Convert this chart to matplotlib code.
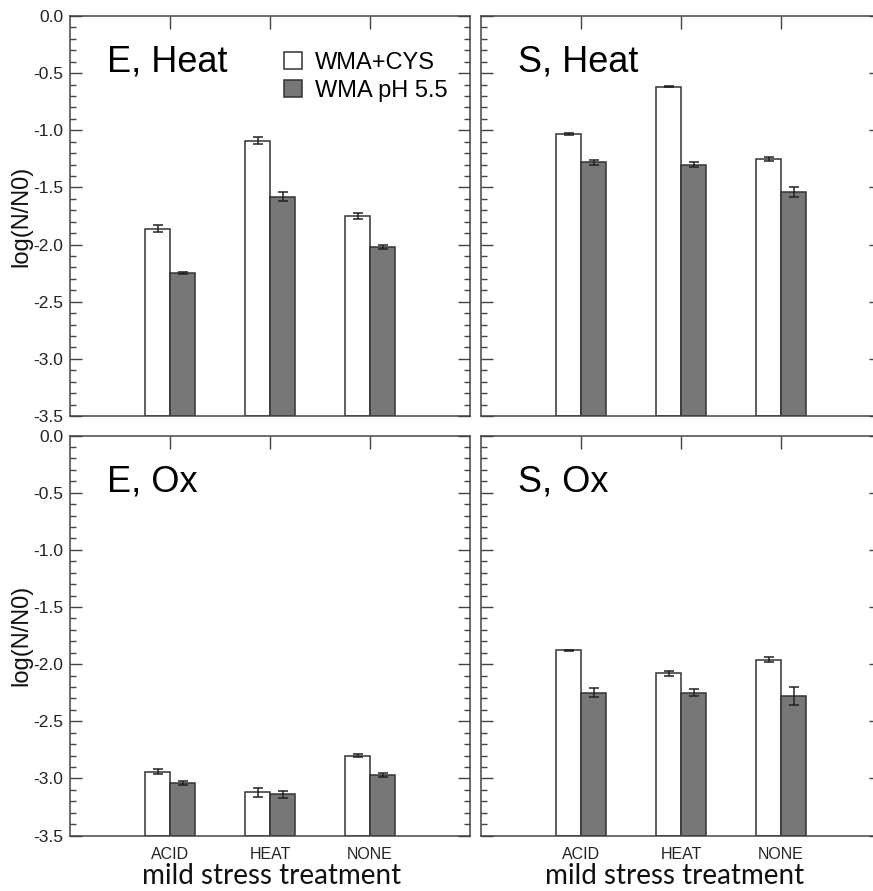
import matplotlib
matplotlib.use('Agg')
import matplotlib.pyplot as plt
from matplotlib.patches import Patch
from matplotlib.ticker import MultipleLocator
import numpy as np

plt.rcParams['font.family'] = ['Liberation Sans', 'DejaVu Sans']

categories = ['ACID', 'HEAT', 'NONE']
series = ['WMA+CYS', 'WMA pH 5.5']
panel_titles = ['E, Heat', 'S, Heat', 'E, Ox', 'S, Ox']

# log(N/N0) means and error (half-width), per panel
cys_vals = [[-1.86, -1.09, -1.75],
            [-1.03, -0.62, -1.25],
            [-2.94, -3.12, -2.80],
            [-1.88, -2.08, -1.96]]
cys_err = [[0.03, 0.03, 0.025],
           [0.01, 0.005, 0.015],
           [0.02, 0.04, 0.015],
           [0.005, 0.02, 0.02]]
ph_vals = [[-2.25, -1.58, -2.02],
           [-1.28, -1.30, -1.54],
           [-3.04, -3.14, -2.97],
           [-2.25, -2.25, -2.28]]
ph_err = [[0.01, 0.04, 0.02],
          [0.02, 0.02, 0.04],
          [0.015, 0.03, 0.02],
          [0.04, 0.03, 0.08]]

W, H = 873, 891
fig = plt.figure(figsize=(W / 100, H / 100), dpi=100)

# pixel boxes: left, top
boxes = [(70, 16), (481, 16), (70, 435.5), (481, 435.5)]
aw, ah = 400, 400

edge = '#333333'
grey = '#777777'
ymin = -3.5
x = np.arange(1, 4)
bw = 0.25

axes = []
for i, (lx, ty) in enumerate(boxes):
    ax = fig.add_axes([lx / W, 1 - (ty + ah) / H, aw / W, ah / H])
    axes.append(ax)
    ax.bar(x - bw / 2, np.array(cys_vals[i]) - ymin, bw, bottom=ymin,
           color='white', edgecolor=edge, linewidth=1.1)
    ax.bar(x + bw / 2, np.array(ph_vals[i]) - ymin, bw, bottom=ymin,
           color=grey, edgecolor=edge, linewidth=1.1)
    ax.errorbar(x - bw / 2, cys_vals[i], yerr=cys_err[i], fmt='none',
                ecolor='#222222', elinewidth=1.1, capsize=3.5, capthick=1.1)
    ax.errorbar(x + bw / 2, ph_vals[i], yerr=ph_err[i], fmt='none',
                ecolor='#222222', elinewidth=1.1, capsize=3.5, capthick=1.1)

    ax.set_xlim(0, 4)
    ax.set_ylim(-3.5, 0)
    ax.yaxis.set_major_locator(MultipleLocator(0.5))
    ax.yaxis.set_minor_locator(MultipleLocator(0.1))
    ax.set_yticks(np.arange(-3.5, 0.01, 0.5))
    ax.set_yticklabels(['%.1f' % v for v in np.arange(-3.5, 0.01, 0.5)])
    ax.tick_params(axis='y', which='major', direction='in', length=8.5,
                   width=1, color='#444444', left=True, right=True,
                   labelsize=12.5, labelcolor='#222222', pad=5)
    ax.tick_params(axis='y', which='minor', direction='in', length=4.3,
                   width=1, color='#444444', left=True, right=True)
    ax.set_xticks(x)
    ax.set_xticklabels(categories)
    ax.tick_params(axis='x', direction='in', length=9, width=1,
                   color='#444444', top=True, bottom=False,
                   labelsize=11.5, labelcolor='#222222', pad=8)
    for s in ax.spines.values():
        s.set_color('#444444')
        s.set_linewidth(1.1)

    ax.text(0.0925, 0.86, panel_titles[i], transform=ax.transAxes,
            fontsize=26, va='baseline', ha='left', color='black')

    if i % 2 == 1:
        ax.tick_params(axis='y', labelleft=False)
    else:
        ax.set_ylabel('log(N/N0)', fontsize=17, color='#111111')
        ax.yaxis.set_label_coords(-0.095, 0.5)
    if i < 2:
        ax.tick_params(axis='x', labelbottom=False)
    else:
        ax.set_xlabel('mild stress treatment', fontsize=20, family='Lato',
                      color='#111111', va='center')
        ax.xaxis.set_label_coords(0.505 if i == 2 else 0.485, -0.1)

handles = [Patch(facecolor='white', edgecolor=edge, linewidth=1.1),
           Patch(facecolor=grey, edgecolor=edge, linewidth=1.1)]
axes[0].legend(handles, series, loc='upper left', bbox_to_anchor=(0.535, 0.91),
               frameon=False, fontsize=17, handlelength=0.75, handleheight=0.75,
               handletextpad=0.55, labelspacing=0.25, borderpad=0,
               borderaxespad=0)

fig.savefig('out.png', dpi=100)
